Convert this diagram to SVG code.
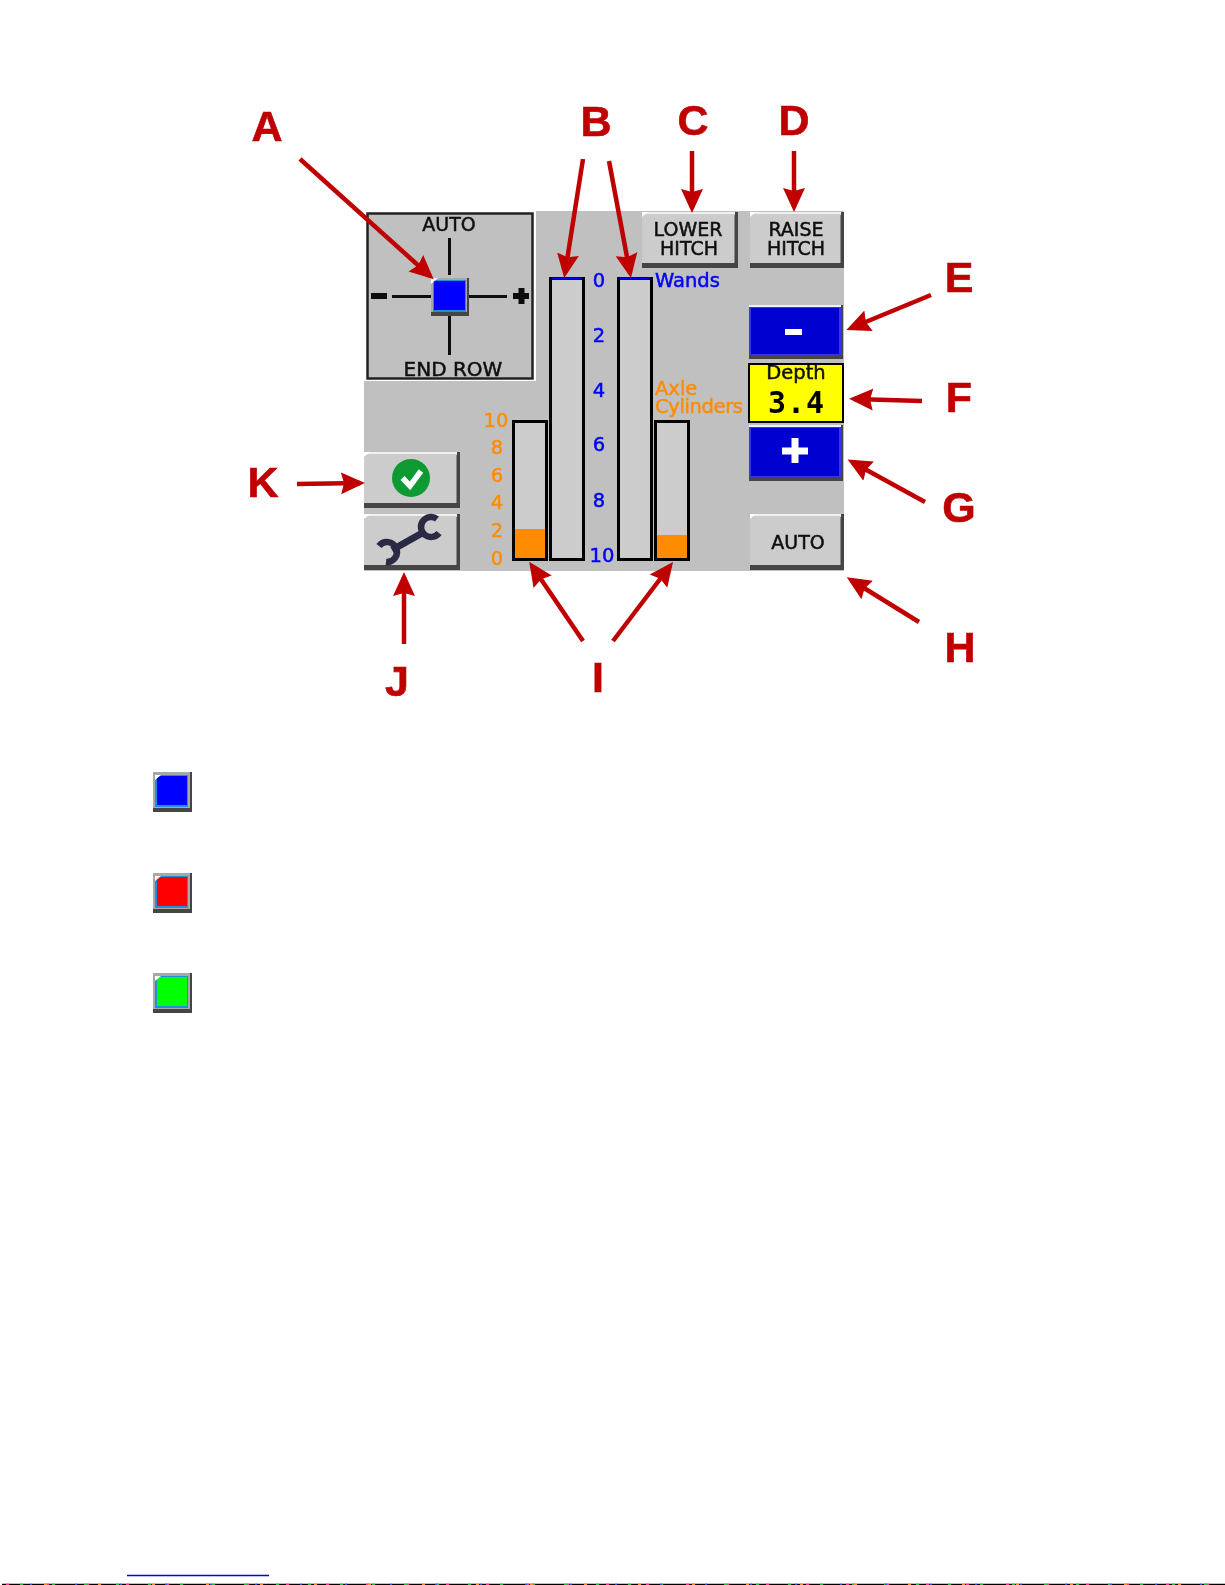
<svg xmlns="http://www.w3.org/2000/svg" width="1225" height="1585" viewBox="0 0 1225 1585">
<style>
text{font-family:"Liberation Sans",Arial,sans-serif}
.soft{filter:url(#soft)}
.ui{font-family:"DejaVu Sans",sans-serif;font-size:19px;text-anchor:middle;fill:#111;stroke:#111;stroke-width:.5}
.b{fill:#0000ff;stroke:#0000ff;stroke-width:.5;font-family:"DejaVu Sans",sans-serif;font-size:19.500px}
.o{fill:#ff8c00;stroke:#ff8c00;stroke-width:.5;font-family:"DejaVu Sans",sans-serif;font-size:19.500px}
.m{text-anchor:middle}
.L{font-size:43px;font-weight:bold;fill:#c00000;stroke:#c00000;stroke-width:.6;text-anchor:middle}
.c{stroke:#c00000;stroke-width:4.500;fill:none;marker-end:url(#h)}
.bar{fill:#cccccc;stroke:#000;stroke-width:3}
.face{fill:#cccccc}
.sh{fill:#444}
.hi{fill:#f0f0f0}
.w{fill:#fff}
.ring{fill:#1e90d8}
.edge{fill:#a8a8a8}
.bl{fill:#0000d0}
.bl2{fill:#3434f0}
</style>
<defs>
<filter id="soft" x="-5%" y="-5%" width="110%" height="110%"><feGaussianBlur stdDeviation="0.45"/></filter>
<marker id="h" markerUnits="userSpaceOnUse" markerWidth="26" markerHeight="26" refX="19" refY="12" orient="auto"><path d="M0 1L24 12L0 23L3 12z" fill="#c00000"/></marker>
<g id="btn"><rect class="sh" width="96" height="56"/><rect class="hi" width="93" height="3"/><rect class="face" y="2" width="92.500" height="49"/><path class="w" d="M0 0H6L0 5Z"/></g>
<g id="btn2"><rect class="sh" width="94" height="56"/><rect class="hi" width="91" height="3"/><rect class="face" y="2" width="90.500" height="49"/><path class="w" d="M0 0H6L0 5Z"/></g>
<g id="swatch"><rect class="sh" width="39" height="40"/><rect class="edge" width="37" height="36"/><rect class="ring" x="2" y="3" width="33" height="32"/></g>
</defs>
<rect width="1225" height="1585" fill="#fff"/>
<path id="panel" d="M536 211H844V571H364V381H536Z" fill="#c0c0c0"/>
<g id="joystick" class="soft">
<rect x="365.500" y="211.500" width="169" height="169" fill="#fff"/>
<rect x="367.500" y="213.500" width="165" height="165" fill="#c0c0c0" stroke="#222" stroke-width="2.500"/>
<text class="ui" x="449" y="231">AUTO</text>
<text class="ui" x="453" y="376" style="font-size:20px">END ROW</text>
<path d="M449.500 238V275M449.500 316V355M392 296.500H431M469 296.500H507" stroke="#111" stroke-width="3"/>
<path d="M371 296H387M513 296H529M521.500 288V304" stroke="#111" stroke-width="6"/>
<rect class="sh" x="431" y="278" width="38" height="38"/>
<rect class="edge" x="431" y="278" width="36" height="34"/>
<rect class="ring" x="433" y="280" width="33" height="32"/>
<rect x="434" y="281" width="31" height="29" fill="#0000ff"/>
<path class="w" d="M431 278H438L431 284Z"/>
</g>
<g id="wand-gauges" class="soft">
<rect class="bar" x="550.500" y="278.500" width="33" height="281"/>
<rect class="bar" x="618.500" y="278.500" width="33" height="281"/>
<path d="M552 278.500H582M620 278.500H650" stroke="#0000ff" stroke-width="2"/>
<text class="b m" x="599" y="287">0</text>
<text class="b m" x="599" y="342">2</text>
<text class="b m" x="599" y="397">4</text>
<text class="b m" x="599" y="451">6</text>
<text class="b m" x="599" y="507">8</text>
<text class="b m" x="602" y="562">10</text>
<text class="b" x="655" y="287">Wands</text>
</g>
<g id="axle-gauges" class="soft">
<rect class="bar" x="513.500" y="421.500" width="33" height="138"/>
<rect class="bar" x="655.500" y="421.500" width="33" height="138"/>
<rect x="515" y="529" width="30" height="29" fill="#ff8c00"/>
<rect x="657" y="535" width="30" height="23" fill="#ff8c00"/>
<text class="o m" x="496" y="427">10</text>
<text class="o m" x="497" y="454">8</text>
<text class="o m" x="497" y="482">6</text>
<text class="o m" x="497" y="509">4</text>
<text class="o m" x="497" y="537">2</text>
<text class="o m" x="497" y="565">0</text>
<text class="o" x="655" y="395">Axle</text>
<text class="o" x="655" y="413" textLength="88">Cylinders</text>
</g>
<g id="lower-hitch" class="soft"><use href="#btn" x="642" y="212"/><text class="ui" x="688" y="236">LOWER</text><text class="ui" x="689" y="255">HITCH</text></g>
<g id="raise-hitch" class="soft"><use href="#btn2" x="750" y="212"/><text class="ui" x="796" y="236">RAISE</text><text class="ui" x="796" y="255">HITCH</text></g>
<g id="minus" class="soft"><rect class="sh" x="749" y="305" width="94" height="54"/><rect class="hi" x="749" y="305" width="92" height="3"/><rect class="bl2" x="749" y="307" width="92" height="48"/><rect class="bl" x="751" y="308" width="88" height="46"/><rect x="785" y="329" width="17" height="6" fill="#fff"/></g>
<g id="depth" class="soft"><rect x="749" y="364" width="94" height="58" fill="#ffff00" stroke="#000" stroke-width="2"/><text x="796" y="379" class="ui" style="font-size:19.500px">Depth</text><text x="796" y="413" style="font-family:'DejaVu Sans Mono',monospace;font-size:30px;font-weight:bold;text-anchor:middle;fill:#000" textLength="56">3.4</text></g>
<g id="plus" class="soft"><rect class="sh" x="749" y="425" width="94" height="56"/><rect class="hi" x="749" y="425" width="92" height="3"/><rect class="bl2" x="749" y="427" width="92" height="50"/><rect class="bl" x="751" y="428" width="88" height="48"/><path d="M782 451H808M795 438V463" stroke="#fff" stroke-width="7"/></g>
<g id="auto" class="soft"><use href="#btn2" x="750" y="514"/><text class="ui" x="798" y="549">AUTO</text></g>
<g id="check" class="soft"><use href="#btn" x="364" y="452"/><circle cx="411" cy="478" r="19" fill="#0a9a30"/><path d="M402.500 478L410 486L421 471" fill="none" stroke="#fff" stroke-width="5.500"/></g>
<g id="wrench" class="soft"><use href="#btn" x="364" y="514"/><path d="M392 550L424 532" stroke="#2b2b44" stroke-width="7" fill="none"/><path d="M437 519A10 10 0 1 0 439 533M379 546A10 10 0 1 1 386 562" stroke="#2b2b44" stroke-width="6.500" fill="none"/></g>
<g id="legend" class="soft">
<g id="legend-blue"><use href="#swatch" x="153" y="772"/><rect x="157" y="776" width="30" height="29" fill="#0000ff"/><path class="w" d="M155 775H161L155 780Z"/></g>
<g id="legend-red"><use href="#swatch" x="153" y="873"/><rect x="157" y="877" width="30" height="29" fill="#ff0000"/><path class="w" d="M155 876H161L155 881Z"/></g>
<g id="legend-green"><use href="#swatch" x="153" y="973"/><rect x="157" y="977" width="30" height="29" fill="#00ff00"/><path class="w" d="M155 976H161L155 981Z"/></g>
</g>
<g id="connectors" class="soft">
<path class="c" d="M300 159L430 276"/>
<path class="c" d="M583 159L565 273"/>
<path class="c" d="M609 161L630 273"/>
<path class="c" d="M692 151V208"/>
<path class="c" d="M794 151V207"/>
<path class="c" d="M931 295L851 328"/>
<path class="c" d="M922 401L854 399"/>
<path class="c" d="M925 502L852 462"/>
<path class="c" d="M919 622L851 580"/>
<path class="c" d="M583 641L532 566"/>
<path class="c" d="M613 641L670 566"/>
<path class="c" d="M404 644V577"/>
<path class="c" d="M297 484L360 483"/>
</g>
<g id="labels" class="soft">
<text class="L" x="267" y="141">A</text>
<text class="L" x="596" y="136">B</text>
<text class="L" x="693" y="135">C</text>
<text class="L" x="794" y="135">D</text>
<text class="L" x="959" y="292">E</text>
<text class="L" x="959" y="412">F</text>
<text class="L" x="959" y="522">G</text>
<text class="L" x="960" y="662">H</text>
<text class="L" x="598" y="692">I</text>
<text class="L" x="397" y="696">J</text>
<text class="L" x="263" y="497">K</text>
</g>
<path d="M127 1575.500H269" stroke="#0000e0" stroke-width="1.500"/>
<g id="bottom-edge" fill="none" stroke-width="1.500">
<path d="M2 1584.500H1225" stroke="#000"/>
<path d="M6 1584.500H1225" stroke="#ff30a0" stroke-dasharray="3 37"/>
<path d="M20 1584.500H1225" stroke="#20c040" stroke-dasharray="3 29"/>
<path d="M30 1584.500H1225" stroke="#2050ff" stroke-dasharray="2 43"/>
<path d="M44 1584.500H1225" stroke="#ff9020" stroke-dasharray="3 51"/>
</g>
</svg>
